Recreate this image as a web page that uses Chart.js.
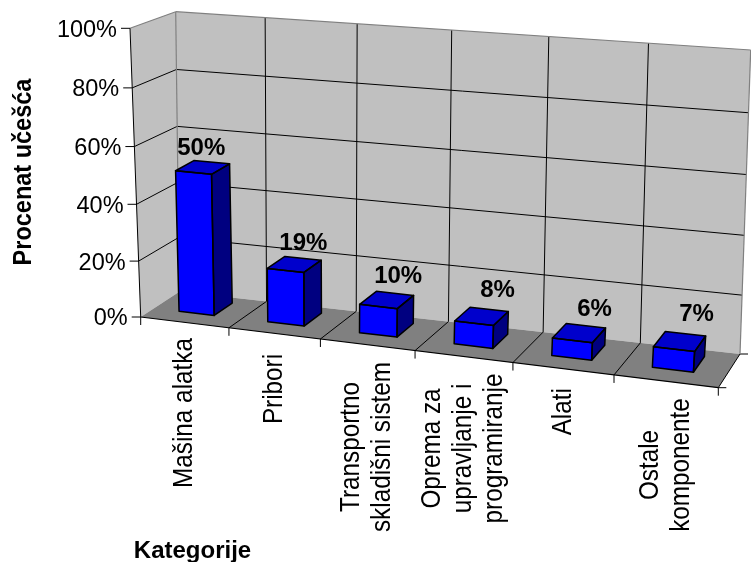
<!DOCTYPE html>
<html>
<head>
<meta charset="utf-8">
<title>Procenat učešća po kategorijama</title>
<script src="https://cdn.jsdelivr.net/npm/chart.js@4/dist/chart.umd.js"></script>
<style>
  html, body { margin: 0; padding: 0; background: #fff; }
  canvas { display: block; }
</style>
</head>
<body>
<canvas id="chart" width="751" height="562"></canvas>
<script>
// Chart data
const categories = [
  ['Mašina alatka'],
  ['Pribori'],
  ['Transportno', 'skladišni sistem'],
  ['Oprema za', 'upravljanje i', 'programiranje'],
  ['Alati'],
  ['Ostale', 'komponente']
];
const shares = [50, 19, 10, 8, 6, 7];
const yAxisTitle = 'Procenat učešća';
const xAxisTitle = 'Kategorije';

// Box corners of the oblique 3D view (f = front plane, b = back plane)
const view = {
  fBottomLeft: [140.7, 317], fBottomRight: [718.3, 387.7],
  fTopLeft: [130, 28.3],     fTopRight: [742, 78],
  bBottomLeft: [179.3, 291.7], bBottomRight: [740, 354],
  bTopLeft: [175.7, 11.7],   bTopRight: [750.7, 50]
};
const barDepth = [0.345, 0.82];      // depth range a column occupies on the floor
const barSlotShift = -0.002;         // columns sit slightly left of their slot centre
const labelMiddleY = [413, 389, 447, 448.5, 411.7, 465];
const valueNudgeX = [-2, 9, 11.5, 16, 15.5, 17];
const valueNudgeY = [-20, -22.5, -25, -27, -24.6, -27.7];

const FONT = '"Liberation Sans", Arial, sans-serif';
const TICK_SIZE = 23.5;
const ROTATED_SIZE = 24.3;
const TITLE_SIZE = 24;
const COLORS = {
  wall: '#C0C0C0', floor: '#808080', edge: '#808080', line: '#000000',
  front: '#0000FF', top: '#0000CC', side: '#000080'
};

function mix(a, b, t) { return [a[0] + (b[0] - a[0]) * t, a[1] + (b[1] - a[1]) * t]; }

// Foreshortening along the width and height of the box
function warpU(u, w) { return u - (0.1 - 0.02 * w) * u * (1 - u); }
function warpV(v) { return v - 0.04 * v * (1 - v); }

function project(u, v, w) {
  const U = warpU(u, w), V = warpV(v);
  const front = mix(mix(view.fBottomLeft, view.fBottomRight, U), mix(view.fTopLeft, view.fTopRight, U), V);
  const back = mix(mix(view.bBottomLeft, view.bBottomRight, U), mix(view.bTopLeft, view.bTopRight, U), V);
  return mix(front, back, w);
}

function fillPoly(ctx, pts, fill) {
  ctx.beginPath();
  pts.forEach((p, i) => (i ? ctx.lineTo(p[0], p[1]) : ctx.moveTo(p[0], p[1])));
  ctx.closePath();
  ctx.fillStyle = fill;
  ctx.fill();
}

function strokePoly(ctx, pts, color, width) {
  ctx.beginPath();
  pts.forEach((p, i) => (i ? ctx.lineTo(p[0], p[1]) : ctx.moveTo(p[0], p[1])));
  ctx.closePath();
  ctx.strokeStyle = color;
  ctx.lineWidth = width;
  ctx.lineJoin = 'round';
  ctx.stroke();
}

function segment(ctx, a, b, color, width) {
  ctx.beginPath();
  ctx.moveTo(a[0], a[1]);
  ctx.lineTo(b[0], b[1]);
  ctx.strokeStyle = color;
  ctx.lineWidth = width;
  ctx.stroke();
}

// Vertical text reading upward, a little heavier across the line than along it
function verticalText(ctx, text, x, y, thickness) {
  ctx.save();
  ctx.translate(x, y);
  ctx.rotate(-Math.PI / 2);
  ctx.scale(1, thickness);
  ctx.fillText(text, 0, 0);
  ctx.restore();
}

function scaleU(chart, px) { const a = chart.chartArea; return (px - a.left) / (a.right - a.left); }
function scaleV(chart, px) { const a = chart.chartArea; return (a.bottom - px) / (a.bottom - a.top); }

// Walls, floor, grid lines and axis text, all placed from the chart's scales
const boxPlugin = {
  id: 'box3d',
  beforeDatasetsDraw(chart) {
    const ctx = chart.ctx, xs = chart.scales.x, ys = chart.scales.y;
    const v = view;
    ctx.save();
    fillPoly(ctx, [v.fTopLeft, v.bTopLeft, v.bBottomLeft, v.fBottomLeft], COLORS.wall);
    fillPoly(ctx, [v.bTopLeft, v.bTopRight, v.bBottomRight, v.bBottomLeft], COLORS.wall);
    fillPoly(ctx, [v.fBottomLeft, v.fBottomRight, v.bBottomRight, v.bBottomLeft], COLORS.floor);

    // Value grid lines, ticks and tick labels
    ctx.font = TICK_SIZE + 'px ' + FONT;
    ctx.fillStyle = '#000';
    ctx.textAlign = 'right';
    ctx.textBaseline = 'middle';
    ys.ticks.forEach(t => {
      const val = scaleV(chart, ys.getPixelForValue(t.value));
      const a = project(0, val, 0), b = project(0, val, 1), c = project(1, val, 1);
      if (val > 0 && val < 1) {
        segment(ctx, a, b, COLORS.line, 1);
        segment(ctx, b, c, COLORS.line, 1);
      }
      segment(ctx, [a[0] - 9, a[1]], a, COLORS.line, 1);
      ctx.fillStyle = '#000';
      ctx.fillText(t.label, a[0] - 13, a[1] + 2);
    });

    // Category boundaries on the floor and back wall
    const count = categories.length;
    const slot = xs.getPixelForValue(1) - xs.getPixelForValue(0);
    for (let i = 0; i <= count; i++) {
      const px = xs.left + i * slot;
      const u = scaleU(chart, px);
      const a = project(u, 0, 0), b = project(u, 0, 1), c = project(u, 1, 1);
      if (i > 0 && i < count) {
        segment(ctx, b, c, COLORS.line, 1);
      }
      if (i > 0) segment(ctx, a, b, COLORS.line, 1);
      segment(ctx, a, [a[0], a[1] + 8], COLORS.line, 1);
    }
    segment(ctx, v.bBottomRight, [v.bBottomRight[0] + 8, v.bBottomRight[1]], COLORS.line, 1);
    segment(ctx, v.fBottomRight, [v.fBottomRight[0] + 8, v.fBottomRight[1]], COLORS.line, 1);

    // Box outline
    segment(ctx, v.fTopLeft, v.bTopLeft, COLORS.edge, 1.2);
    segment(ctx, v.bTopLeft, v.bTopRight, COLORS.edge, 1.2);
    segment(ctx, v.bTopLeft, v.bBottomLeft, COLORS.edge, 1.2);
    segment(ctx, v.bTopRight, v.bBottomRight, COLORS.edge, 1.2);
    segment(ctx, v.fTopLeft, v.fBottomLeft, COLORS.line, 1);
    segment(ctx, v.fBottomLeft, v.fBottomRight, COLORS.line, 1.2);

    // Category labels, rotated and centred on each slot
    ctx.font = ROTATED_SIZE + 'px ' + FONT;
    ctx.textAlign = 'center';
    ctx.textBaseline = 'alphabetic';
    ctx.fillStyle = '#000';
    const lineGap = 31;
    xs.ticks.forEach((t, i) => {
      const u = scaleU(chart, xs.getPixelForValue(i));
      const baseX = project(u, 0, 0)[0] + 7.5;
      const lines = [].concat(t.label);
      lines.forEach((line, n) => {
        verticalText(ctx, line, baseX + (n - (lines.length - 1) / 2) * lineGap, labelMiddleY[i], 1.13);
      });
    });

    // Axis titles
    ctx.font = 'bold 23.5px ' + FONT;
    verticalText(ctx, yAxisTitle, 31, 172, 1.1);
    ctx.font = 'bold ' + TITLE_SIZE + 'px ' + FONT;
    ctx.fillText(xAxisTitle, 192.5, 558);
    ctx.restore();
  },
  // Each column is extruded from its bar element
  afterDatasetsDraw(chart) {
    const ctx = chart.ctx;
    const bars = chart.getDatasetMeta(0).data;
    ctx.save();
    bars.forEach((bar, i) => {
      const p = bar.getProps(['x', 'y', 'base', 'width'], true);
      const u0 = scaleU(chart, p.x - p.width / 2) + barSlotShift;
      const u1 = scaleU(chart, p.x + p.width / 2) + barSlotShift;
      const v0 = scaleV(chart, p.base), v1 = scaleV(chart, p.y);
      const [w0, w1] = barDepth;
      const fbl = project(u0, v0, w0), fbr = project(u1, v0, w0);
      const ftl = project(u0, v1, w0), ftr = project(u1, v1, w0);
      const bbl = project(u0, v0, w1), bbr = project(u1, v0, w1);
      // Rear column edges stay parallel to the front ones
      const btl = [bbl[0] + ftl[0] - fbl[0], project(u0, v1, w1)[1]];
      const btr = [bbr[0] + ftr[0] - fbr[0], project(u1, v1, w1)[1]];
      const sidePts = [fbr, ftr, btr, bbr], topPts = [ftl, btl, btr, ftr], frontPts = [fbl, ftl, ftr, fbr];
      fillPoly(ctx, sidePts, COLORS.side);
      fillPoly(ctx, topPts, COLORS.top);
      fillPoly(ctx, frontPts, COLORS.front);
      strokePoly(ctx, sidePts, '#000', 1.5);
      strokePoly(ctx, topPts, '#000', 1.5);
      strokePoly(ctx, frontPts, '#000', 1.5);

      const c = project((u0 + u1) / 2, v1, (w0 + w1) / 2);
      ctx.font = 'bold ' + TITLE_SIZE + 'px ' + FONT;
      ctx.textAlign = 'center';
      ctx.textBaseline = 'middle';
      ctx.fillStyle = '#000';
      ctx.fillText(shares[i] + '%', c[0] + valueNudgeX[i], c[1] + valueNudgeY[i] + 1);
    });
    ctx.restore();
  }
};

new Chart(document.getElementById('chart'), {
  type: 'bar',
  data: {
    labels: categories,
    datasets: [{
      label: yAxisTitle,
      data: shares,
      backgroundColor: 'rgba(0,0,0,0)',
      borderWidth: 0,
      barPercentage: 0.4,
      categoryPercentage: 1
    }]
  },
  options: {
    responsive: false,
    animation: false,
    layout: { padding: { left: 140, right: 30, top: 28, bottom: 170 } },
    plugins: { legend: { display: false }, tooltip: { enabled: false } },
    scales: {
      x: { display: false, grid: { display: false } },
      y: {
        display: false,
        min: 0,
        max: 100,
        ticks: { stepSize: 20, callback: value => value + '%' },
        grid: { display: false }
      }
    }
  },
  plugins: [boxPlugin]
});
</script>
</body>
</html>
